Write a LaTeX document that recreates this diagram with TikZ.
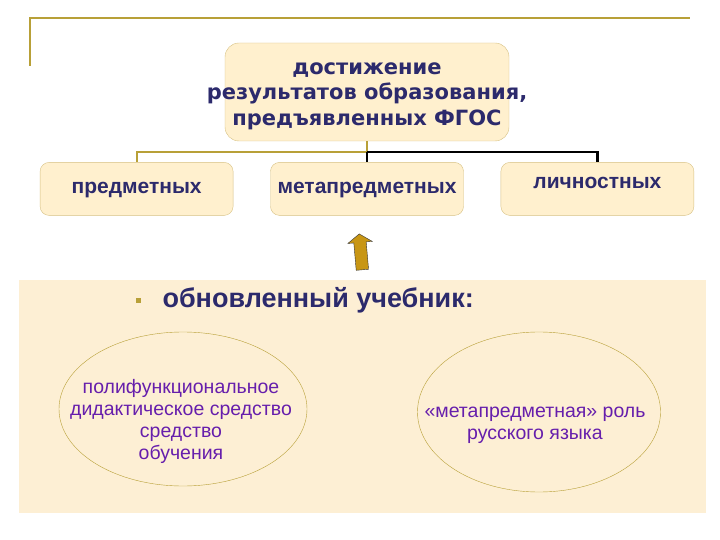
\documentclass[tikz,border=0pt]{standalone}
\usepackage{fontspec}
\setsansfont{Liberation Sans}
\newfontfamily\widefont{DejaVu Sans}
\usepackage{tikz}
\usetikzlibrary{positioning, shapes.geometric, shapes.arrows}

\definecolor{goldline}{RGB}{184,160,56}
\definecolor{inknavy}{RGB}{44,42,108}
\definecolor{inkviolet}{RGB}{102,30,172}
\definecolor{creamfill}{RGB}{255,240,206}
\definecolor{creamedge}{RGB}{214,192,130}
\definecolor{panelfill}{RGB}{253,239,212}
\definecolor{arrowgold}{RGB}{200,150,20}

\begin{document}
\begin{tikzpicture}[
  x=1pt, y=-1pt,
  font=\sffamily,
  goalbox/.style={draw=creamedge, rounded corners=14pt, fill=creamfill,
    minimum width=284pt, minimum height=98pt},
  goaltext/.style={align=center, text=inknavy,
    font=\widefont\bfseries\fontsize{21}{25.5}\selectfont},
  kind/.style={draw=creamedge, rounded corners=9pt, fill=creamfill,
    minimum width=193pt, minimum height=53pt, align=center, text=inknavy,
    text height=12pt, text depth=1.9pt,
    font=\sffamily\bfseries\fontsize{21}{24}\selectfont},
  oval/.style={ellipse, draw=goldline, thin, inner sep=0pt},
  ovaltext/.style={align=center, text=inkviolet,
    font=\sffamily\fontsize{19.5}{22}\selectfont},
  link/.style={line width=2.2pt, goldline},
  darklink/.style={line width=2.2pt, black},
  uparrow/.style={single arrow, draw=black!80, fill=arrowgold, thin,
    minimum width=24pt, minimum height=36pt, single arrow head extend=6pt,
    single arrow tip angle=110, inner sep=6pt},
]
  \useasboundingbox (0,0) rectangle (720,540);

  % frame line and panel
  \draw[goldline, line width=2pt] (30,66) -- (30,18) -- (690,18);
  \fill[panelfill] (19,280) rectangle (706,513);

  % goal and its three kinds
  \node[goalbox] (goal) at (367,92) {};
  \node[goaltext] (goaltxt) at (367,96)
    {достижение\\результатов образования,\\предъявленных ФГОС};

  \node[kind, below=21pt of goal] (meta) {метапредметных};
  \node[kind, left=37pt of meta] (subj) {предметных};
  \node[kind, right=37pt of meta, text height=0pt, text depth=0.9pt] (pers)
    {личностных};

  \coordinate[below=11pt of goal.south] (fork);
  \draw[link] (goal.south) -- (fork) -| (subj.north);
  \draw[darklink] (fork) -- (meta.north);
  \draw[darklink] (fork) -| (pers.north);

  \node[uparrow, rotate=95] (lift) at (361,254) {};

  % updated textbook
  \node[fill=goldline, minimum size=5pt, inner sep=0pt] (dot) at (138,300) {};
  \node[anchor=base west, text=inknavy,
    font=\sffamily\bfseries\fontsize{27}{30}\selectfont] (book) at (159,307)
    {обновленный учебник:};

  \node[oval, minimum width=248pt, minimum height=154pt] (tool) at (183,409) {};
  \node[ovaltext] (tooltxt) at (181,421)
    {полифункциональное\\дидактическое средство\\средство\\обучения};

  \node[oval, minimum width=243pt, minimum height=160pt] (role) at (539,412) {};
  \node[ovaltext] (roletxt) at (535,425)
    {«метапредметная» роль\\русского языка};
\end{tikzpicture}
\end{document}
